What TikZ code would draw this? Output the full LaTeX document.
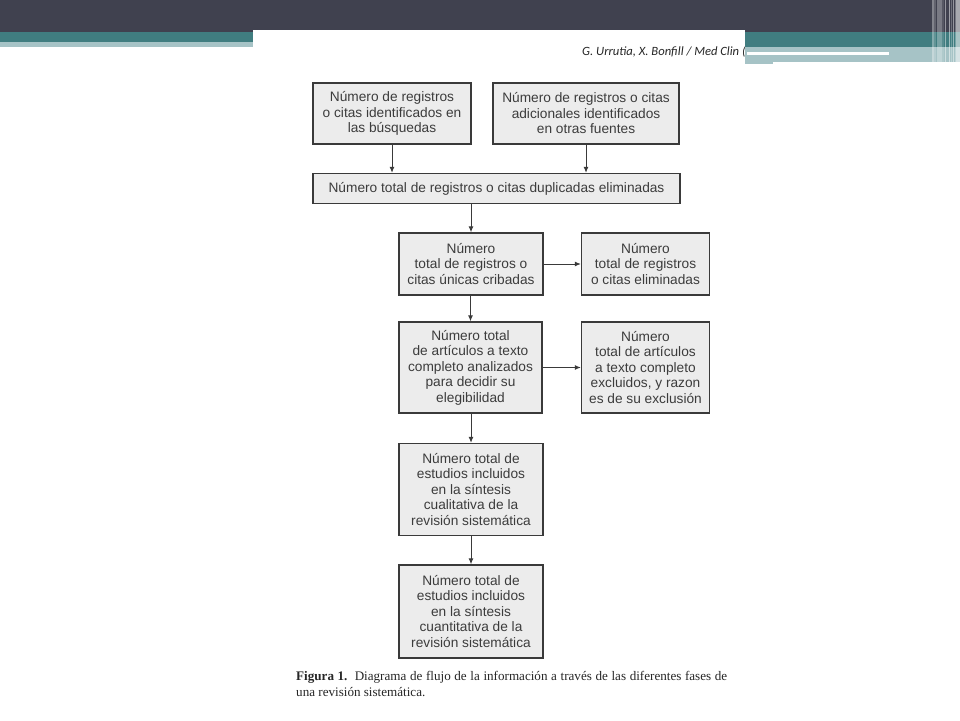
\documentclass[tikz,border=0pt]{standalone}
\usepackage{fontspec}
\setmainfont{Liberation Serif}
\newfontfamily\boxfont{Liberation Sans}
\newfontfamily\hdrfont{Carlito}
\usetikzlibrary{arrows.meta}
\definecolor{slatebar}{HTML}{40414F}
\definecolor{tealband}{HTML}{407D80}
\definecolor{lightband}{HTML}{A6C3C6}
\definecolor{boxfill}{HTML}{ECECEC}
\definecolor{boxline}{HTML}{3A3A3A}
\definecolor{boxtext}{HTML}{3C3C3C}
\definecolor{captext}{HTML}{262626}
\tikzset{
  flowbox/.style={draw=boxline, fill=boxfill, line width=1.3pt, rectangle,
    align=center, inner sep=0pt, text=boxtext,
    font=\boxfont\fontsize{13.7}{15.5}\selectfont},
  flowarrow/.style={draw=boxline, line width=1pt, -{Latex[length=6pt,width=5pt]}},
}
\begin{document}
\begin{tikzpicture}[x=1pt,y=-1pt]
\useasboundingbox (0,0) rectangle (960,720);
\fill[white] (0,0) rectangle (960,720);
% top bars
\fill[slatebar] (0,0) rectangle (960,32);
\fill[tealband] (0,32) rectangle (253,42);
\fill[lightband] (0,42) rectangle (253,47);
% embedded page image
\fill[white] (253,30) rectangle (745,720);
\node[anchor=base west, inner sep=0pt, text=captext, font=\hdrfont\itshape\fontsize{12.6}{14}\selectfont] (hdr) at (582,55) {G. Urrutia, X. Bonfill / Med Clin (};
% right bands
\fill[tealband] (745,32) rectangle (960,47);
\fill[lightband] (745,47) rectangle (960,62);
\fill[lightband] (745,62) rectangle (773,64);
\fill[white] (747,51.7) rectangle (889,54.5);
% vertical stripes
\fill[white, opacity=0.35] (931.5,0) rectangle (933.5,64);
\fill[white, opacity=0.18] (934,0) rectangle (936,64);
\fill[white, opacity=0.30] (937,0) rectangle (942,64);
\fill[white, opacity=0.12] (942,0) rectangle (944,64);
\fill[white, opacity=0.45] (945,0) rectangle (946.3,64);
\fill[white, opacity=0.50] (948.5,0) rectangle (950,64);
\fill[white, opacity=0.25] (950.5,0) rectangle (952,64);
\fill[white, opacity=0.45] (952.5,0) rectangle (954,64);
\fill[white, opacity=0.30] (954.5,0) rectangle (955.5,64);
\fill[white, opacity=0.55] (956,0) rectangle (960,64);
% boxes
\node[flowbox, minimum width=158pt, minimum height=61pt] (b1) at (392,113.5)
  {Número de registros\\o citas identificados en\\las búsquedas};
\node[flowbox, minimum width=186pt, minimum height=61pt] (b2) at (586,113.5)
  {Número de registros o citas\\adicionales identificados\\en otras fuentes};
\node[flowbox, minimum width=367pt, minimum height=30pt] (b3) at (496.5,188.5)
  {Número total de registros o citas duplicadas eliminadas};
\node[flowbox, minimum width=144pt, minimum height=62pt] (b4) at (471,264)
  {Número\\total de registros o\\citas únicas cribadas};
\node[flowbox, minimum width=128pt, minimum height=62pt] (b5) at (645.5,264)
  {Número\\total de registros\\o citas eliminadas};
\node[flowbox, minimum width=143pt, minimum height=91pt] (b6) at (470.5,367.5)
  {Número total\\de artículos a texto\\completo analizados\\para decidir su\\elegibilidad};
\node[flowbox, minimum width=128pt, minimum height=91pt] (b7) at (645.5,367.5)
  {Número\\total de artículos\\a texto completo\\excluidos, y razon\\es de su exclusión};
\node[flowbox, minimum width=144pt, minimum height=92pt] (b8) at (471,489.5)
  {Número total de\\estudios incluidos\\en la síntesis\\cualitativa de la\\revisión sistemática};
\node[flowbox, minimum width=144pt, minimum height=93pt] (b9) at (471,611.5)
  {Número total de\\estudios incluidos\\en la síntesis\\cuantitativa de la\\revisión sistemática};
% arrows
\draw[flowarrow] (b1.south) -- (b1.south |- b3.north);
\draw[flowarrow] (b2.south) -- (b2.south |- b3.north);
\draw[flowarrow] (b3.south -| b4.north) -- (b4.north);
\draw[flowarrow] (b4.east) -- (b5.west);
\draw[flowarrow] (b4.south -| b6.north) -- (b6.north);
\draw[flowarrow] (b6.east) -- (b6.east -| b7.west);
\draw[flowarrow] (b6.south -| b8.north) -- (b8.north);
\draw[flowarrow] (b8.south) -- (b9.north);
% caption
\node[anchor=north west, inner sep=0pt, text=captext, text width=431pt, align=justify,
  font=\fontsize{13.1}{16}\selectfont] (cap) at (296,671)
  {\textbf{Figura 1.}\ \ Diagrama de flujo de la información a través de las diferentes fases de\linebreak una revisión sistemática.};
\end{tikzpicture}
\end{document}
